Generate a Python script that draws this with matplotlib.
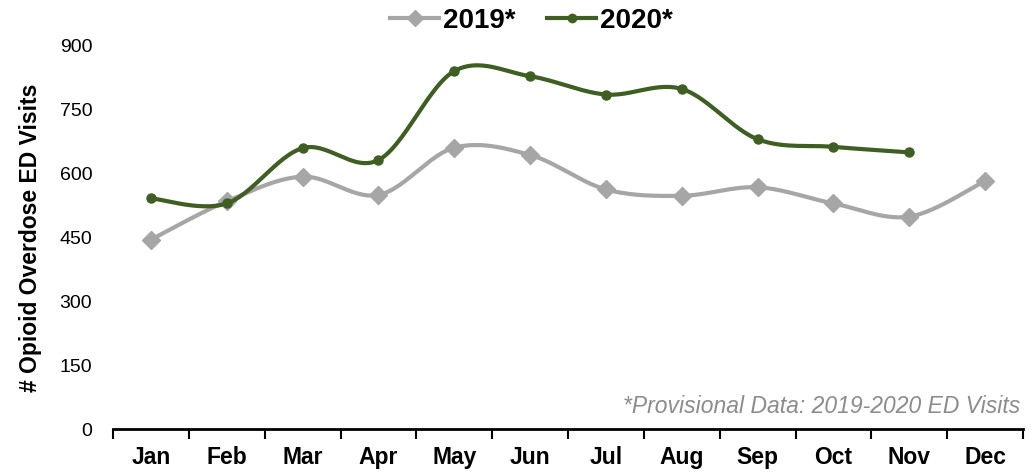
import numpy as np
import matplotlib.pyplot as plt

plt.rcParams['font.family'] = ['Liberation Sans', 'DejaVu Sans']

months = ['Jan', 'Feb', 'Mar', 'Apr', 'May', 'Jun', 'Jul', 'Aug', 'Sep', 'Oct', 'Nov', 'Dec']
visits_2019 = [445, 535, 593, 550, 661, 644, 563, 548, 568, 530, 499, 583]
visits_2020 = [542, 530, 660, 632, 841, 829, 786, 799, 681, 663, 650]

gray = '#A6A6A6'
green = '#3F5E22'


def smooth(x, y, n=30):
    # Excel-style smoothed line (Catmull-Rom through the points)
    x = np.asarray(x, float)
    y = np.asarray(y, float)
    px = np.concatenate([[x[0]], x, [x[-1]]])
    py = np.concatenate([[y[0]], y, [y[-1]]])
    xs, ys = [], []
    t = np.linspace(0, 1, n)
    for i in range(1, len(px) - 2):
        p0, p1, p2, p3 = (np.array([px[j], py[j]]) for j in (i - 1, i, i + 1, i + 2))
        c1 = p1 + (p2 - p0) / 6
        c2 = p2 - (p3 - p1) / 6
        b = ((1 - t) ** 3)[:, None] * p1 + (3 * (1 - t) ** 2 * t)[:, None] * c1 \
            + (3 * (1 - t) * t ** 2)[:, None] * c2 + (t ** 3)[:, None] * p2
        xs.extend(b[:, 0])
        ys.extend(b[:, 1])
    return xs, ys


fig = plt.figure(figsize=(10.36, 4.74), dpi=100)
ax = fig.add_axes([113 / 1036, 1 - 429 / 474, 910 / 1036, 383 / 474])

x19 = np.arange(len(visits_2019))
x20 = np.arange(len(visits_2020))

sx, sy = smooth(x19, visits_2019)
ax.plot(sx, sy, color=gray, lw=3.0, solid_capstyle='round', clip_on=False)
ax.plot(x19, visits_2019, 'D', color=gray, ms=9.5, clip_on=False)
sx, sy = smooth(x20, visits_2020)
ax.plot(sx, sy, color=green, lw=3.0, solid_capstyle='round', clip_on=False)
ax.plot(x20, visits_2020, 'o', color=green, ms=6.5, clip_on=False)

# legend proxies
ax.plot([], [], '-D', color=gray, lw=3.0, ms=8, label='2019*')
ax.plot([], [], '-o', color=green, lw=3.0, ms=6, label='2020*')
handles, labels = ax.get_legend_handles_labels()
leg = ax.legend(handles[-2:], labels[-2:], loc='center', bbox_to_anchor=(0.46, 1.065),
                ncol=2, frameon=False, prop={'weight': 'bold', 'size': 20},
                handlelength=1.75, handletextpad=0.15, columnspacing=1.15,
                borderpad=0, borderaxespad=0)

ax.set_xlim(-0.5, 11.5)
ax.set_ylim(0, 900)
ax.set_yticks(np.arange(0, 901, 150))
ax.tick_params(axis='y', length=0, pad=15, labelsize=14)

ax.set_xticks(np.arange(12))
ax.set_xticklabels(months, fontweight='bold', fontsize=16.5)
ax.set_xticks(np.arange(-0.5, 12, 1), minor=True)
ax.tick_params(axis='x', which='major', length=0, pad=12)
ax.tick_params(axis='x', which='minor', length=7, width=1.5, direction='out')

for s in ['top', 'right', 'left']:
    ax.spines[s].set_visible(False)
ax.spines['bottom'].set_linewidth(2.0)

ax.set_ylabel('# Opioid Overdose ED Visits', fontweight='bold', fontsize=16.5)
ax.yaxis.set_label_coords(-0.078, 0.5)

ax.text(0.997, 0.03, '*Provisional Data: 2019-2020 ED Visits', transform=ax.transAxes,
        ha='right', va='bottom', style='italic', color='#8C8C8C', fontsize=16.5)

fig.savefig('out.png', dpi=100)
